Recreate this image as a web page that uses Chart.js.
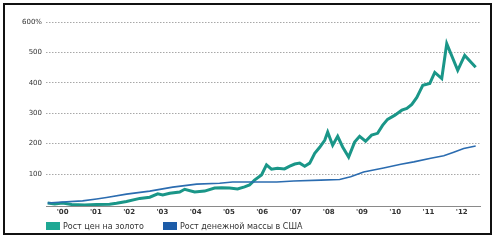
<!DOCTYPE html>
<html>
<head>
<meta charset="utf-8">
<script src="https://cdn.jsdelivr.net/npm/chart.js@4/dist/chart.umd.min.js"></script>
<style>
  body { margin: 0; background: #fff; }
  #wrap { position: relative; width: 494px; height: 240px; }
  #frame { position: absolute; left: 3px; top: 3px; width: 485px; height: 228px; border: 2px solid #111; }
  canvas { position: absolute; left: 0; top: 0; }
  .legend { position: absolute; top: 222px; font: 8px 'DejaVu Sans', sans-serif; color: #333; white-space: nowrap; }
  .legend span { display: inline-block; width: 14px; height: 8px; vertical-align: -1px; margin-right: 3px; }
</style>
</head>
<body>
<div id="wrap">
  <div id="frame"></div>
  <canvas id="goldChart" width="494" height="240"></canvas>
  <div class="legend" style="left:46px"><span style="background:#1fa894"></span>Рост цен на золото</div>
  <div class="legend" style="left:163px"><span style="background:#1d5ca8"></span>Рост денежной массы в США</div>
</div>
<script>
// x values are decimal years, y values are % growth
const yearTicks = [2000, 2001, 2002, 2003, 2004, 2005, 2006, 2007, 2008, 2009, 2010, 2011, 2012];
const valueTicks = [100, 200, 300, 400, 500, 600];

const goldYears = [1999.55, 1999.76, 2000.0, 2000.27, 2000.66, 2001.02, 2001.41, 2001.62, 2001.92, 2002.32,
  2002.62, 2002.86, 2003.01, 2003.22, 2003.52, 2003.67, 2003.97, 2004.27, 2004.57, 2004.78,
  2005.02, 2005.26, 2005.47, 2005.62, 2005.77, 2005.98, 2006.13, 2006.28, 2006.46, 2006.67,
  2006.83, 2006.98, 2007.13, 2007.28, 2007.43, 2007.58, 2007.73, 2007.88, 2007.97, 2008.12,
  2008.27, 2008.42, 2008.6, 2008.78, 2008.93, 2009.11, 2009.29, 2009.47, 2009.62, 2009.77,
  2009.98, 2010.2, 2010.35, 2010.5, 2010.65, 2010.74, 2010.83, 2011.04, 2011.19, 2011.4,
  2011.55, 2011.88, 2012.09, 2012.42];
const goldValues = [5, 2, 5, 0, -2, 0, 1, 4, 10, 20,
  24, 35, 31, 37, 41, 50, 41, 44, 54, 55,
  54, 51, 58, 64, 80, 97, 130, 116, 119, 117,
  126, 133, 136, 126, 136, 168, 188, 211, 238, 195,
  224, 189, 156, 205, 224, 208, 228, 234, 260, 280,
  293, 310, 316, 329, 352, 372, 392, 398, 434, 414,
  529, 441, 490, 451];

const moneyYears = [1999.55, 2000.0, 2000.6, 2001.02, 2001.32, 2001.92, 2002.62, 2003.31, 2004.03, 2004.72,
  2005.11, 2005.53, 2006.44, 2006.95, 2007.76, 2008.33, 2008.66, 2009.05, 2009.65, 2010.17,
  2010.56, 2011.07, 2011.46, 2011.76, 2012.06, 2012.42];
const moneyValues = [5, 8, 12, 18, 23, 34, 44, 57, 67, 70,
  74, 74, 74, 77, 80, 82, 91, 107, 120, 132,
  140, 152, 160, 172, 184, 192];

const toPoints = (xs, ys) => xs.map((x, i) => ({ x: x, y: ys[i] }));

new Chart(document.getElementById('goldChart'), {
  type: 'line',
  data: {
    datasets: [
      {
        label: 'Рост денежной массы в США',
        data: toPoints(moneyYears, moneyValues),
        borderColor: '#2b6cb0',
        borderWidth: 1.6,
        pointRadius: 0,
        tension: 0,
        fill: false
      },
      {
        label: 'Рост цен на золото',
        data: toPoints(goldYears, goldValues),
        borderColor: '#1a9688',
        borderWidth: 3,
        pointRadius: 0,
        tension: 0,
        fill: false
      }
    ]
  },
  options: {
    responsive: false,
    animation: false,
    layout: { padding: { left: 0, right: 14, top: 22, bottom: 0 } },
    scales: {
      x: {
        type: 'linear',
        min: 1999.5,
        max: 2012.55,
        afterBuildTicks: (axis) => { axis.ticks = yearTicks.map(v => ({ value: v })); },
        afterFit: (axis) => { axis.height = 34; },
        ticks: {
          autoSkip: false,
          maxRotation: 0,
          padding: 2,
          color: '#333',
          font: { family: 'DejaVu Sans', size: 7, weight: 'bold' },
          callback: (v) => "'" + String(v).slice(2)
        },
        grid: { display: false, drawTicks: false },
        border: { display: true, color: '#8a8a8a', width: 1 }
      },
      y: {
        min: -5,
        max: 600,
        afterBuildTicks: (axis) => { axis.ticks = valueTicks.map(v => ({ value: v })); },
        afterFit: (axis) => { axis.width = 46; },
        ticks: {
          padding: 4,
          color: '#333',
          font: { family: 'DejaVu Sans', size: 7 },
          callback: (v) => v === 600 ? '600%' : String(v)
        },
        grid: { color: '#a8a8a8', lineWidth: 1, drawTicks: false },
        border: { display: false, dash: [1.5, 1.5] }
      }
    },
    plugins: {
      legend: { display: false },
      tooltip: { enabled: false }
    }
  }
});
</script>
</body>
</html>
